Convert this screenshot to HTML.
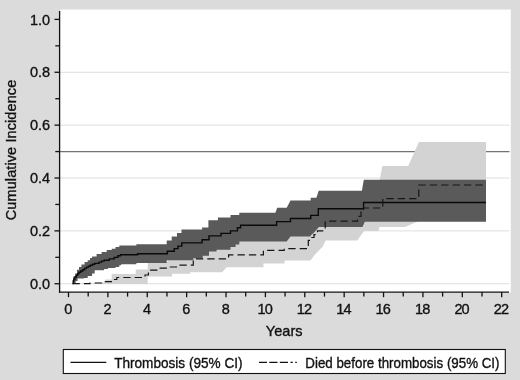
<!DOCTYPE html>
<html><head><meta charset="utf-8"><title>Cumulative Incidence</title>
<style>html,body{margin:0;padding:0;background:#dbdbdb}svg{display:block;will-change:transform;transform:translateZ(0)}text{font-family:"Liberation Sans",Arial,sans-serif;fill:#111;stroke:#111;stroke-width:0.35}</style></head><body>
<svg width="520" height="380" viewBox="0 0 520 380">
<rect width="520" height="380" fill="#dbdbdb"/>
<rect x="60" y="9.5" width="450.8" height="283" fill="#fff"/>
<line x1="60" x2="509.5" y1="283.75" y2="283.75" stroke="#dedede" stroke-width="1"/>
<line x1="60" x2="509.5" y1="230.88" y2="230.88" stroke="#dedede" stroke-width="1"/>
<line x1="60" x2="509.5" y1="178.01" y2="178.01" stroke="#dedede" stroke-width="1"/>
<line x1="60" x2="509.5" y1="125.14" y2="125.14" stroke="#dedede" stroke-width="1"/>
<line x1="60" x2="509.5" y1="72.27" y2="72.27" stroke="#dedede" stroke-width="1"/>
<line x1="60" x2="509.5" y1="151.57" y2="151.57" stroke="#747474" stroke-width="1.2"/>
<path d="M72.5,283.5 L95.0,283.5 L95.0,282.5 L105.4,282.5 L105.4,279.5 L111.7,279.5 L111.7,274.0 L135.7,274.0 L135.7,269.5 L147.7,269.5 L147.7,262.0 L167.3,262.0 L167.3,251.2 L174.2,251.2 L174.2,248.6 L178.0,248.6 L178.0,246.1 L181.8,246.1 L181.8,242.9 L202.1,242.9 L202.1,239.7 L209.0,239.7 L209.0,235.9 L221.0,235.9 L221.0,233.4 L230.5,233.4 L230.5,230.9 L237.4,230.9 L237.4,227.7 L240.6,227.7 L240.6,225.3 L276.6,225.3 L276.6,221.6 L290.5,221.6 L290.5,218.5 L310.7,218.5 L310.7,215.4 L318.3,215.4 L318.3,208.8 L363.6,208.8 L363.6,195.0 L376.8,195.0 L376.8,195.0 L382.3,165.9 L408.2,165.9 L408.2,165.9 L418.9,142.1 L486.0,142.1 L486.0,142.1 L486.0,221.0 L486.0,221.0 L418.8,221.0 L405.0,227.1 L405.0,227.1 L379.5,227.1 L378.5,231.0 L378.5,231.0 L364.0,231.0 L357.3,240.4 L357.3,240.4 L325.6,240.4 L323.0,246.3 L315.5,253.9 L310.4,260.4 L310.4,260.4 L284.6,260.4 L284.6,263.5 L263.4,263.5 L263.4,267.2 L226.7,267.2 L222.0,272.2 L222.0,272.2 L190.0,272.2 L190.0,273.8 L172.0,273.8 L172.0,276.5 L147.7,276.5 L147.7,283.9 L72.5,283.9Z" fill="#d3d3d3"/>
<path d="M72.5,283.5 L73.2,283.5 L73.2,276.6 L75.1,276.6 L75.1,273.5 L77.0,273.5 L77.0,269.7 L79.0,269.7 L79.0,267.0 L81.4,267.0 L81.4,264.6 L84.6,264.6 L84.6,262.1 L87.7,262.1 L87.7,260.2 L90.0,260.2 L90.0,258.0 L92.1,258.0 L92.1,256.4 L96.6,256.4 L96.6,253.9 L101.6,253.9 L101.6,252.0 L106.7,252.0 L106.7,250.1 L111.7,250.1 L111.7,248.8 L115.5,248.8 L115.5,246.9 L119.3,246.9 L119.3,245.4 L136.4,245.4 L136.4,244.2 L166.7,244.2 L166.7,240.4 L171.7,240.4 L171.7,236.5 L177.0,236.5 L177.0,233.0 L181.5,233.0 L181.5,229.6 L202.1,229.6 L202.1,227.5 L208.4,227.5 L208.4,220.2 L217.9,220.2 L217.9,217.6 L230.5,217.6 L230.5,215.1 L239.3,215.1 L239.3,212.8 L275.4,212.8 L275.4,212.8 L277.2,207.7 L286.7,207.7 L286.7,207.7 L290.5,200.6 L310.7,200.6 L310.7,197.7 L316.4,197.7 L316.4,197.7 L318.7,190.8 L361.9,190.8 L361.9,190.8 L363.8,179.7 L486.0,179.7 L486.0,179.7 L486.0,221.7 L486.0,221.7 L364.8,221.7 L362.5,227.1 L362.5,227.1 L318.9,227.1 L313.9,232.7 L310.7,235.3 L310.7,236.6 L290.5,236.6 L286.7,241.6 L286.7,241.6 L239.3,241.6 L239.3,244.4 L235.6,244.4 L235.6,247.0 L230.5,247.0 L230.5,249.8 L216.6,249.8 L216.6,251.5 L209.0,251.5 L209.0,255.8 L202.7,255.8 L202.7,258.3 L193.3,258.3 L193.3,260.2 L166.7,260.2 L166.7,263.1 L136.4,263.1 L136.4,264.3 L121.2,264.3 L121.2,265.3 L119.3,265.3 L119.3,267.1 L115.5,267.1 L115.5,268.0 L107.9,268.0 L107.9,269.0 L104.1,269.0 L104.1,270.3 L94.7,270.3 L94.7,273.5 L92.1,273.5 L92.1,276.0 L87.7,276.0 L87.7,277.9 L83.9,277.9 L83.9,278.5 L77.6,278.5 L77.6,281.0 L75.7,281.0 L75.7,283.6 L72.5,283.6Z" fill="#5a5a5a"/>
<path d="M72.5,283.5 L73.2,283.5 L73.2,281.0 L73.8,281.0 L73.8,279.1 L75.0,279.1 L75.0,277.0 L76.4,277.0 L76.4,275.4 L77.6,275.4 L77.6,273.8 L78.9,273.8 L78.9,272.2 L80.8,272.2 L80.8,271.0 L82.7,271.0 L82.7,269.7 L84.6,269.7 L84.6,268.4 L86.5,268.4 L86.5,267.1 L88.4,267.1 L88.4,266.2 L90.3,266.2 L90.3,265.3 L92.5,265.3 L92.5,264.3 L94.7,264.3 L94.7,263.4 L99.1,263.4 L99.1,262.1 L101.6,262.1 L101.6,261.1 L104.1,261.1 L104.1,260.2 L109.2,260.2 L109.2,258.9 L114.2,258.9 L114.2,257.4 L118.0,257.4 L118.0,255.8 L120.6,255.8 L120.6,254.7 L137.6,254.7 L137.6,253.7 L167.3,253.7 L167.3,251.2 L174.2,251.2 L174.2,248.6 L178.0,248.6 L178.0,246.1 L181.8,246.1 L181.8,242.9 L202.1,242.9 L202.1,239.7 L209.0,239.7 L209.0,235.9 L221.0,235.9 L221.0,233.4 L230.5,233.4 L230.5,230.9 L237.4,230.9 L237.4,227.7 L240.6,227.7 L240.6,225.3 L276.6,225.3 L276.6,221.6 L290.5,221.6 L290.5,218.5 L310.7,218.5 L310.7,215.4 L318.3,215.4 L318.3,208.8 L363.6,208.8 L363.6,202.5 L486.0,202.5 L486.0,202.5" fill="none" stroke="#0a0a0a" stroke-width="1.4"/>
<path d="M72.5,283.7 L90.0,283.7 L90.0,283.0 L101.6,283.0 L101.6,281.7 L112.5,281.7 L112.5,279.5 L116.8,279.5 L116.8,277.5 L145.0,277.5 L145.0,275.0 L148.4,275.0 L148.4,273.0 L149.6,273.0 L149.6,270.1 L159.0,270.1 L159.0,268.2 L169.0,268.2 L169.0,267.0 L178.0,267.0 L178.0,265.2 L193.3,265.2 L193.3,258.9 L228.6,258.9 L228.6,254.9 L263.4,254.9 L263.4,250.3 L284.2,250.3 L284.2,248.7 L308.3,248.7 L308.3,240.3 L311.0,240.3 L311.0,237.5 L314.0,237.5 L314.0,234.6 L317.5,234.6 L317.5,230.8 L325.2,230.8 L325.2,221.1 L357.5,221.1 L357.5,216.3 L361.0,216.3 L361.0,212.2 L363.5,212.2 L363.5,208.0 L382.8,208.0 L382.8,198.6 L418.8,198.6 L418.8,185.0 L486.0,185.0 L486.0,185.0" fill="none" stroke="#161616" stroke-width="1.2" stroke-dasharray="7.3 4.1"/>
<g stroke="#111" stroke-width="1.3" fill="none">
<line x1="59.6" x2="59.6" y1="11" y2="292.8"/>
<line x1="59" x2="509" y1="292.1" y2="292.1"/>
<line x1="54.5" x2="59.5" y1="283.75" y2="283.75"/>
<line x1="55.3" x2="59.5" y1="257.31" y2="257.31"/>
<line x1="54.5" x2="59.5" y1="230.88" y2="230.88"/>
<line x1="55.3" x2="59.5" y1="204.44" y2="204.44"/>
<line x1="54.5" x2="59.5" y1="178.01" y2="178.01"/>
<line x1="55.3" x2="59.5" y1="151.57" y2="151.57"/>
<line x1="54.5" x2="59.5" y1="125.14" y2="125.14"/>
<line x1="55.3" x2="59.5" y1="98.70" y2="98.70"/>
<line x1="54.5" x2="59.5" y1="72.27" y2="72.27"/>
<line x1="55.3" x2="59.5" y1="45.83" y2="45.83"/>
<line x1="54.5" x2="59.5" y1="19.40" y2="19.40"/>
<line x1="68.50" x2="68.50" y1="292.1" y2="297.2"/>
<line x1="88.19" x2="88.19" y1="292.1" y2="296.6"/>
<line x1="107.88" x2="107.88" y1="292.1" y2="297.2"/>
<line x1="127.57" x2="127.57" y1="292.1" y2="296.6"/>
<line x1="147.26" x2="147.26" y1="292.1" y2="297.2"/>
<line x1="166.95" x2="166.95" y1="292.1" y2="296.6"/>
<line x1="186.64" x2="186.64" y1="292.1" y2="297.2"/>
<line x1="206.33" x2="206.33" y1="292.1" y2="296.6"/>
<line x1="226.02" x2="226.02" y1="292.1" y2="297.2"/>
<line x1="245.71" x2="245.71" y1="292.1" y2="296.6"/>
<line x1="265.40" x2="265.40" y1="292.1" y2="297.2"/>
<line x1="285.09" x2="285.09" y1="292.1" y2="296.6"/>
<line x1="304.78" x2="304.78" y1="292.1" y2="297.2"/>
<line x1="324.47" x2="324.47" y1="292.1" y2="296.6"/>
<line x1="344.16" x2="344.16" y1="292.1" y2="297.2"/>
<line x1="363.85" x2="363.85" y1="292.1" y2="296.6"/>
<line x1="383.54" x2="383.54" y1="292.1" y2="297.2"/>
<line x1="403.23" x2="403.23" y1="292.1" y2="296.6"/>
<line x1="422.92" x2="422.92" y1="292.1" y2="297.2"/>
<line x1="442.61" x2="442.61" y1="292.1" y2="296.6"/>
<line x1="462.30" x2="462.30" y1="292.1" y2="297.2"/>
<line x1="481.99" x2="481.99" y1="292.1" y2="296.6"/>
<line x1="501.68" x2="501.68" y1="292.1" y2="297.2"/>
</g>
<text x="50.1" y="288.95" font-size="14.5" text-anchor="end">0.0</text>
<text x="50.1" y="236.08" font-size="14.5" text-anchor="end">0.2</text>
<text x="50.1" y="183.21" font-size="14.5" text-anchor="end">0.4</text>
<text x="50.1" y="130.34" font-size="14.5" text-anchor="end">0.6</text>
<text x="50.1" y="77.47" font-size="14.5" text-anchor="end">0.8</text>
<text x="50.1" y="24.60" font-size="14.5" text-anchor="end">1.0</text>
<text x="68.20" y="313.6" font-size="14.5" text-anchor="middle">0</text>
<text x="107.58" y="313.6" font-size="14.5" text-anchor="middle">2</text>
<text x="146.96" y="313.6" font-size="14.5" text-anchor="middle">4</text>
<text x="186.34" y="313.6" font-size="14.5" text-anchor="middle">6</text>
<text x="225.72" y="313.6" font-size="14.5" text-anchor="middle">8</text>
<text x="264.65" y="313.6" font-size="14.5" text-anchor="middle" letter-spacing="-0.9">10</text>
<text x="304.03" y="313.6" font-size="14.5" text-anchor="middle" letter-spacing="-0.9">12</text>
<text x="343.41" y="313.6" font-size="14.5" text-anchor="middle" letter-spacing="-0.9">14</text>
<text x="382.79" y="313.6" font-size="14.5" text-anchor="middle" letter-spacing="-0.9">16</text>
<text x="422.17" y="313.6" font-size="14.5" text-anchor="middle" letter-spacing="-0.9">18</text>
<text x="461.55" y="313.6" font-size="14.5" text-anchor="middle" letter-spacing="-0.9">20</text>
<text x="500.93" y="313.6" font-size="14.5" text-anchor="middle" letter-spacing="-0.9">22</text>
<text transform="translate(16.4,150) rotate(-90)" font-size="14.5" text-anchor="middle" textLength="140.6" lengthAdjust="spacing">Cumulative Incidence</text>
<text x="284.2" y="336.3" font-size="14.5" text-anchor="middle" textLength="36.8" lengthAdjust="spacing">Years</text>
<rect x="63.3" y="349.5" width="442" height="24" fill="#fff" stroke="#111" stroke-width="1.1"/>
<line x1="70.5" x2="106.3" y1="362.4" y2="362.4" stroke="#111" stroke-width="1.15"/>
<text x="114.2" y="367.6" font-size="14.3" textLength="128.3" lengthAdjust="spacingAndGlyphs">Thrombosis (95% CI)</text>
<path d="M259,362.4H267M269.3,362.4H277.5M279.8,362.4H288M290.5,362.4H292.8M295.2,362.4H296.8" stroke="#111" stroke-width="1.15" fill="none"/>
<text x="305.3" y="367.6" font-size="14.3" textLength="194.2" lengthAdjust="spacingAndGlyphs">Died before thrombosis (95% CI)</text>
</svg></body></html>
